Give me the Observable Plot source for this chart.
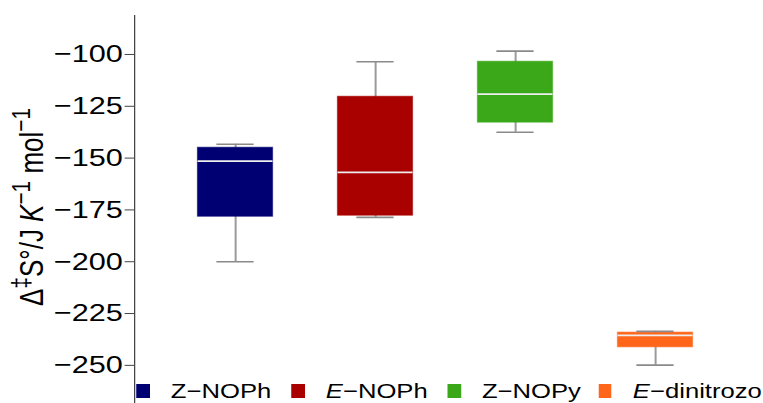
<!DOCTYPE html>
<html>
<head>
<meta charset="utf-8">
<script src="https://cdn.jsdelivr.net/npm/d3@7"></script>
<script src="https://cdn.jsdelivr.net/npm/@observablehq/plot@0.6"></script>
<style>
  html, body { margin: 0; padding: 0; background: #fff; }
  #page { width: 763px; height: 403px; overflow: hidden; position: relative; }
  #fig { position: absolute; left: 0; top: 0; width: 610.4px; height: 403px;
         transform: scaleX(1.25); transform-origin: 0 0;
         font-family: "Liberation Sans", Arial, sans-serif; color: #000; }
  #ylabel { position: absolute; left: 25.2px; top: 207px; white-space: nowrap;
            transform: translate(-50%, -50%) rotate(-90deg); font-size: 26px; line-height: 1; }
  #ylabel sup { font-size: 0.8em; line-height: 0; }
  .item { position: absolute; top: 382.3px; display: flex; align-items: center;
          font-size: 20.5px; line-height: 18px; white-space: nowrap; }
  .sw { width: 10.5px; height: 14px; }
  .lt { margin-left: 17px; }
</style>
</head>
<body>
<div id="page"><div id="fig">
  <div id="chart"></div>
  <div id="ylabel">Δ<sup>‡</sup>S°/J <i>K</i><sup>−1</sup> mol<sup>−1</sup></div>
  <div id="legend"></div>
</div></div>
<script>
// ---- data ----
const isomer     = ["Z", "E", "Z", "E"];
const compound   = ["NOPh", "NOPh", "NOPy", "dinitrozo"];
const categories = ["Z−NOPh", "E−NOPh", "Z−NOPy", "E−dinitrozo"];
const colors     = ["#000073", "#a90000", "#3aa819", "#ff661a"];
const whiskerLow  = [-200.0, -178.6, -137.5, -249.9];
const q1          = [-178.3, -177.8, -132.9, -241.3];
const median      = [-151.5, -156.9, -119.1, -235.5];
const q3          = [-145.0, -120.4, -103.5, -234.2];
const whiskerHigh = [-143.3, -103.5,  -98.4, -233.6];
const yTicks = [-100, -125, -150, -175, -200, -225, -250];

const rows = categories.map((c, i) => ({
  cat: c, lo: whiskerLow[i], q1: q1[i], med: median[i], q3: q3[i], hi: whiskerHigh[i], color: colors[i]
}));

const chart = Plot.plot({
  width: 610.4,
  height: 403,
  marginLeft: 107.2,
  marginRight: 5,
  marginTop: 15,
  marginBottom: 0,
  style: { fontFamily: "Liberation Sans, Arial, sans-serif", color: "#000", background: "transparent" },
  x: { domain: categories, paddingInner: 0.465, paddingOuter: 0.445, axis: null },
  y: { domain: [-268.4, -81.2] },
  marks: [
    Plot.ruleX(rows, { x: "cat", y1: "lo", y2: "hi", stroke: "#9a9a9a", strokeWidth: 1.6 }),
    Plot.barY(rows, { x: "cat", y1: "q1", y2: "q3", fill: "color", stroke: "color", strokeOpacity: 0.6, strokeWidth: 1 }),
    Plot.tickY(rows, { x: "cat", y: "med", stroke: "#eeeeee", strokeWidth: 1.8 }),
    Plot.tickY(rows, { x: "cat", y: "lo", stroke: "#8a8a8a", strokeWidth: 1.6, inset: 15.1 }),
    Plot.tickY(rows, { x: "cat", y: "hi", stroke: "#8a8a8a", strokeWidth: 1.6, inset: 15.1 }),
    Plot.axisY({ ticks: yTicks, tickSize: 7.5, tickPadding: 2, tickFormat: d3.format("d"),
                 fontSize: 24.5, label: null, stroke: "#444", color: "#000" }),
    Plot.frame({ anchor: "left", stroke: "#444" })
  ]
});
chart.style.fill = "#000";
document.getElementById("chart").appendChild(chart);

// legend (layout positions in the unscaled figure space)
const legendLeft = [109.2, 233.2, 358.0, 478.8];
const legend = document.getElementById("legend");
categories.forEach((c, i) => {
  const it = document.createElement("div");
  it.className = "item";
  it.style.left = legendLeft[i] + "px";
  const sw = document.createElement("div");
  sw.className = "sw";
  sw.style.background = colors[i];
  const tx = document.createElement("span");
  tx.className = "lt";
  tx.innerHTML = isomer[i] === "E" ? `<i>${isomer[i]}</i>−${compound[i]}` : `${isomer[i]}−${compound[i]}`;
  it.appendChild(sw);
  it.appendChild(tx);
  legend.appendChild(it);
});
</script>
</body>
</html>
